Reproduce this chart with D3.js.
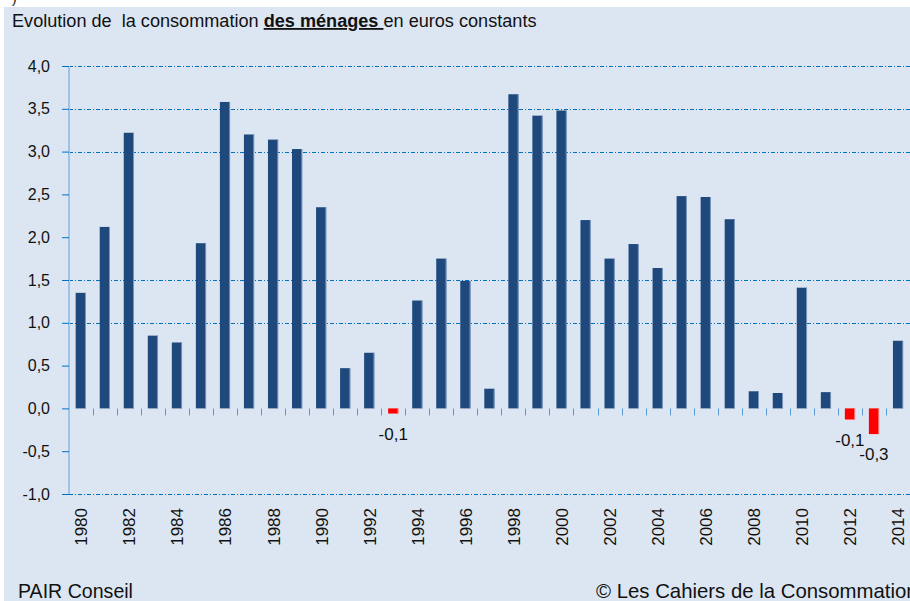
<!DOCTYPE html>
<html>
<head>
<meta charset="utf-8">
<script src="https://cdn.jsdelivr.net/npm/d3@7/dist/d3.min.js"></script>
<style>
  html, body { margin: 0; padding: 0; background: #ffffff; }
  svg { display: block; }
  text { font-family: "Liberation Sans", Arial, sans-serif; fill: #111; }
</style>
</head>
<body>
<svg id="chart" width="910" height="601"></svg>
<script>
// ---- data ----
const years = d3.range(1980, 2015).map(String);
const values = [
  1.35, 2.12, 3.22, 0.85, 0.77, 1.93, 3.58, 3.20, 3.14, 3.03,
  2.35, 0.47, 0.65, -0.06, 1.26, 1.75, 1.49, 0.23, 3.67, 3.42,
  3.48, 2.20, 1.75, 1.92, 1.64, 2.48, 2.47, 2.21, 0.20, 0.18,
  1.41, 0.19, -0.13, -0.30, 0.79
];
const yTicks = [-1.0, -0.5, 0.0, 0.5, 1.0, 1.5, 2.0, 2.5, 3.0, 3.5, 4.0];
const gridValues = [-1.0, 1.0, 1.5, 3.0, 3.5, 4.0];
const xLabelYears = years.filter((d, i) => i % 2 === 0);
const titleParts = ["Evolution de  la consommation ", "des ménages ", "en euros constants"];
const footerLeft = "PAIR Conseil";
const footerRight = "© Les Cahiers de la Consommation";

// ---- setup ----
const W = 910, H = 601;
const svg = d3.select("#chart");
const loc = d3.formatLocale({decimal: ",", thousands: " ", grouping: [3], currency: ["", "€"], minus: "-"});
const fmt = loc.format(".1f");

svg.append("rect").attr("width", W).attr("height", H).attr("fill", "#ffffff");
svg.append("rect").attr("x", 4).attr("y", 7).attr("width", W - 4).attr("height", H - 7).attr("fill", "#DCE6F2");
svg.append("text").attr("x", 12).attr("y", 3).style("font-size", "14px").text(")");

const x = d3.scaleBand().domain(years).range([68.7, 910]).paddingInner(0.58).paddingOuter(0.29);
const y = d3.scaleLinear().domain([-1, 4]).range([494, 66]);

// grid lines
svg.append("g").selectAll("line").data(gridValues).join("line")
  .attr("x1", 69).attr("x2", W)
  .attr("y1", d => Math.round(y(d)) + 0.5).attr("y2", d => Math.round(y(d)) + 0.5)
  .attr("stroke", "#0070C0").attr("stroke-width", 1)
  .attr("stroke-dasharray", "4,2,1,2");

// bars
const bars = svg.append("g");
bars.selectAll("rect.bar").data(values).join("rect")
  .attr("class", "bar")
  .attr("x", (d, i) => x(years[i]))
  .attr("width", x.bandwidth())
  .attr("y", d => y(Math.max(0, d)))
  .attr("height", d => Math.abs(y(d) - y(0)))
  .attr("fill", d => d < 0 ? "#FF0000" : "#1F497D");
bars.selectAll("rect.edge").data(values).join("rect")
  .attr("class", "edge")
  .attr("x", (d, i) => x(years[i]) + x.bandwidth() - 0.8)
  .attr("width", 1)
  .attr("y", d => y(Math.max(0, d)))
  .attr("height", d => Math.abs(y(d) - y(0)))
  .attr("fill", d => d < 0 ? "#FF8080" : "#7E98BC");

// y axis
const yAxis = d3.axisLeft(y).tickValues(yTicks).tickSize(7).tickFormat(fmt);
const gy = svg.append("g").attr("transform", "translate(69,0)").call(yAxis);
gy.select(".domain").attr("stroke", "#9DC3E6").attr("stroke-width", 2).attr("d", `M0,${y(4)}V${y(-1)}`);
gy.selectAll(".tick line").attr("stroke", "#0070C0");
gy.selectAll(".tick text").attr("x", -19).style("font-size", "16px").style("font-family", "Liberation Sans, Arial, sans-serif").attr("fill", "#111");

// x ticks at category boundaries
const boundaries = years.slice(1).map(d => x(d) - x.step() * x.paddingInner() / 2);
svg.append("g").selectAll("line").data(boundaries).join("line")
  .attr("x1", d => Math.round(d) + 0.5).attr("x2", d => Math.round(d) + 0.5)
  .attr("y1", y(0)).attr("y2", y(0) + 7)
  .attr("stroke", "#5B9BD5").attr("stroke-width", 1);

// x labels
svg.append("g").selectAll("text").data(xLabelYears).join("text")
  .attr("transform", d => `translate(${x(d) + x.bandwidth() / 2 + 1},508) rotate(-90)`)
  .attr("text-anchor", "end").attr("dominant-baseline", "central")
  .style("font-size", "17px")
  .text(d => d);

// negative data labels
svg.append("g").selectAll("text").data(values.map((v, i) => ({v, i})).filter(d => d.v < 0)).join("text")
  .attr("x", d => x(years[d.i]) + x.bandwidth() / 2)
  .attr("y", d => y(d.v) + 26)
  .attr("text-anchor", "middle")
  .style("font-size", "17px")
  .text(d => fmt(d.v));

// title
const title = svg.append("text").attr("x", 12).attr("y", 27).style("font-size", "16px").style("white-space", "pre").attr("xml:space", "preserve");
title.append("tspan").text(titleParts[0]);
title.append("tspan").style("font-weight", "bold").style("text-decoration", "underline").text(titleParts[1]);
title.append("tspan").text(titleParts[2]);
// fit title width
(function fit(sel, target) {
  const len = sel.node().getComputedTextLength();
  const fs = parseFloat(sel.style("font-size"));
  sel.style("font-size", (fs * target / len) + "px");
})(title, 525);

const fl = svg.append("text").attr("x", 18).attr("y", 598).style("font-size", "18px").text(footerLeft);
const fr = svg.append("text").attr("x", 596).attr("y", 598).style("font-size", "18px").text(footerRight);
[[fl, 115], [fr, 322]].forEach(([sel, target]) => {
  const len = sel.node().getComputedTextLength();
  const fs = parseFloat(sel.style("font-size"));
  sel.style("font-size", (fs * target / len) + "px");
});
</script>
</body>
</html>
